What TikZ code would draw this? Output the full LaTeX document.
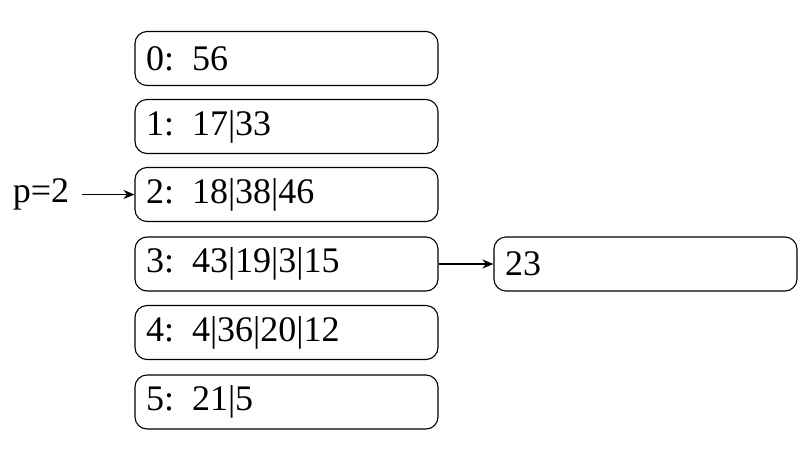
\documentclass[tikz,border=0pt]{standalone}
\usepackage{fontspec}
\setmainfont{Liberation Serif}
\usetikzlibrary{arrows.meta}
\begin{document}
\begin{tikzpicture}[x=1pt,y=-1pt,
  cell/.style={draw, line width=1.1pt, rounded corners=12pt, minimum width=303pt, minimum height=54pt,
    text width=281pt, align=left, inner xsep=11pt, font=\fontsize{36}{40}\selectfont},
  lbl/.style={font=\fontsize{36}{40}\selectfont, inner xsep=13pt},
  arr/.style={-{Stealth[length=11pt,width=9pt]}, line width=1.5pt}]
\useasboundingbox (0,0) rectangle (807,459);
\newcommand{\gp}{\hspace{0.5em}}
\node[cell] (b0) at (286.5,58.5) {0:\gp 56};
\node[cell] (b1) at (286.5,126.5) {1:\gp 17|33};
\node[cell] (b2) at (286.5,194.5) {2:\gp 18|38|46};
\node[cell] (b3) at (286.5,264) {3:\gp 43|19|3|15};
\node[cell] (b4) at (286.5,332.5) {4:\gp 4|36|20|12};
\node[cell] (b5) at (286.5,402) {5:\gp 21|5};
\node[cell] (c) at (645.5,264) {23};
\node[lbl] (p) at (41,194.5) {p=2};
\draw[arr] (p.east) -- (b2.west);
\draw[arr] (b3.east) -- (c.west);
\end{tikzpicture}
\end{document}
